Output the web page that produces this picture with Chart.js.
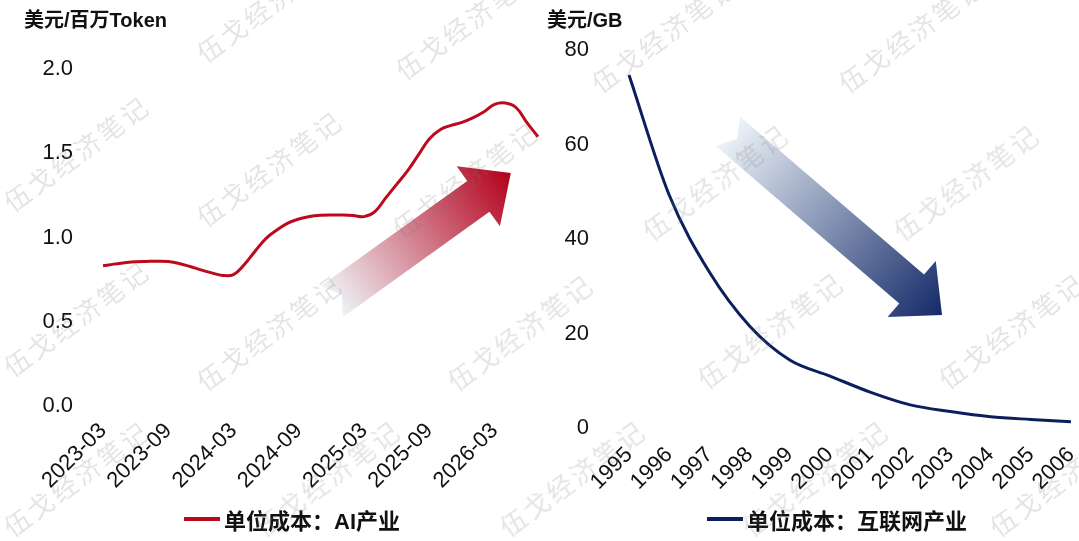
<!DOCTYPE html>
<html>
<head>
<meta charset="utf-8">
<script src="https://cdn.jsdelivr.net/npm/chart.js@4.4.1/dist/chart.umd.min.js"></script>
<style>
html, body { margin: 0; padding: 0; background: #fff; }
body { width: 1079px; height: 541px; position: relative; overflow: hidden;
       font-family: 'Liberation Sans', 'Noto Sans CJK SC', sans-serif; color: #111; }
canvas { position: absolute; top: 0; }
#aiChart { left: 0; }
#netChart { left: 540px; }
.unit { position: absolute; top: 10px; font-size: 20px; line-height: 20px; font-weight: bold; white-space: nowrap; }
.legend { position: absolute; top: 507px; height: 24px; display: flex; align-items: center; white-space: nowrap;
          font-size: 22px; font-weight: bold; font-family: 'Liberation Sans', 'Noto Sans CJK SC', sans-serif; }
.legend span.line { display: inline-block; width: 36px; height: 4px; margin-right: 4px; }
.wm { position: absolute; font-family: 'Noto Sans CJK SC', sans-serif; font-size: 26px; line-height: 26px;
      letter-spacing: 3px; color: rgba(120,120,120,0.2); transform-origin: 0 100%; transform: rotate(-36.5deg);
      white-space: nowrap; pointer-events: none; }
</style>
</head>
<body>
<canvas id="aiChart" width="546" height="541"></canvas>
<canvas id="netChart" width="539" height="541"></canvas>
<div class="unit" style="left:24px">美元/百万Token</div>
<div class="unit" style="left:547px">美元/GB</div>
<div class="legend" id="aiLegend" style="left:184px"></div>
<div class="legend" id="netLegend" style="left:707px"></div>
<div id="marks"></div>
<script>
// AI: monthly unit cost, USD per million tokens
const aiMonths = ['2023-03','2023-04','2023-05','2023-06','2023-07','2023-08','2023-09','2023-10','2023-11','2023-12',
    '2024-01','2024-02','2024-03','2024-04','2024-05','2024-06','2024-07','2024-08','2024-09','2024-10','2024-11','2024-12',
    '2025-01','2025-02','2025-03','2025-04','2025-05','2025-06','2025-07','2025-08','2025-09','2025-10','2025-11','2025-12',
    '2026-01','2026-02','2026-03','2026-04','2026-05','2026-06','2026-07'];
const aiCost = [0.832, 0.842, 0.850, 0.856, 0.858, 0.859, 0.857, 0.846, 0.828, 0.808,
    0.790, 0.775, 0.780, 0.840, 0.920, 0.995, 1.045, 1.085, 1.110, 1.125, 1.132, 1.134,
    1.133, 1.130, 1.124, 1.154, 1.235, 1.315, 1.395, 1.490, 1.585, 1.640, 1.665, 1.683,
    1.710, 1.745, 1.790, 1.798, 1.770, 1.680, 1.598];
const aiTickEvery = 6;

// Internet: yearly unit cost, USD per GB
const netYears = ['1995','1996','1997','1998','1999','2000','2001','2002','2003','2004','2005','2006'];
const netCost = [74.7, 49.3, 33.0, 21.6, 14.4, 11.0, 7.6, 4.9, 3.5, 2.4, 1.8, 1.3];

// trend arrows, in data units: [fromIndex, fromValue, toIndex, toValue]
const aiArrow = [21.05, 0.62, 37.5, 1.383];
const netArrow = [2.46, 62.8, 7.79, 23.9];

const RED = '#BC0A1D';
const NAVY = '#0C1F5C';
const tickFont = { family: "'Liberation Sans', 'Noto Sans CJK SC', sans-serif", size: 22 };

const arrowPlugin = {
    id: 'trendArrow',
    beforeDatasetsDraw(chart, args, opts) {
        if (!opts.from) return;
        const xs = chart.scales.x, ys = chart.scales.y;
        const x0 = xs.getPixelForValue(opts.from[0]), y0 = ys.getPixelForValue(opts.from[1]);
        const x1 = xs.getPixelForValue(opts.to[0]), y1 = ys.getPixelForValue(opts.to[1]);
        const L = Math.hypot(x1 - x0, y1 - y0);
        const w = 19, H = 37, hl = 40, n = 12;
        const ctx = chart.ctx;
        ctx.save();
        ctx.translate(x0, y0);
        ctx.rotate(Math.atan2(y1 - y0, x1 - x0));
        const g = ctx.createLinearGradient(0, 0, L, 0);
        g.addColorStop(0, opts.c0);
        g.addColorStop(1, opts.c1);
        ctx.beginPath();
        ctx.moveTo(0, -w);
        ctx.lineTo(L - hl, -w);
        ctx.lineTo(L - hl, -H);
        ctx.lineTo(L, 0);
        ctx.lineTo(L - hl, H);
        ctx.lineTo(L - hl, w);
        ctx.lineTo(0, w);
        ctx.lineTo(n, 0);
        ctx.closePath();
        ctx.fillStyle = g;
        ctx.fill();
        ctx.restore();
    }
};

// fixed axis sizes, no extra label overflow padding
function fixSize(prop, size) {
    return s => {
        s[prop] = size;
        s.paddingLeft = 0; s.paddingRight = 0; s.paddingTop = 0; s.paddingBottom = 0;
    };
}

function baseOptions(cfg) {
    return {
        responsive: false,
        animation: false,
        layout: { padding: { top: cfg.top, right: 8, left: 0, bottom: 0 } },
        plugins: {
            legend: { display: false },
            tooltip: { enabled: false },
            trendArrow: cfg.arrow
        },
        scales: {
            x: {
                grid: { display: false, drawTicks: false },
                border: { display: false },
                ticks: {
                    autoSkip: false, minRotation: 45, maxRotation: 45, padding: cfg.xPad,
                    color: '#111', font: tickFont, callback: cfg.xCallback
                },
                afterFit: fixSize('height', cfg.xHeight)
            },
            y: {
                min: cfg.min, max: cfg.max,
                grid: { display: false, drawTicks: false },
                border: { display: false },
                ticks: { stepSize: cfg.step, padding: cfg.yPad, color: '#111', font: tickFont, callback: cfg.yCallback },
                afterFit: fixSize('width', cfg.yWidth)
            }
        }
    };
}

const aiChart = new Chart(document.getElementById('aiChart'), {
    type: 'line',
    data: {
        labels: aiMonths,
        datasets: [{
            label: '单位成本：AI产业', data: aiCost, borderColor: RED, backgroundColor: RED,
            borderWidth: 3, pointRadius: 0, tension: 0.4, fill: false
        }]
    },
    options: baseOptions({
        top: 69, xHeight: 135, yWidth: 103, xPad: 12, yPad: 30,
        min: 0, max: 2, step: 0.5,
        yCallback: v => v.toFixed(1),
        xCallback: function (v, i) { return i % aiTickEvery === 0 ? this.getLabelForValue(v) : ''; },
        arrow: { from: aiArrow.slice(0, 2), to: aiArrow.slice(2), c0: '#EFF4F8', c1: '#B3001A' }
    }),
    plugins: [arrowPlugin]
});

const netChart = new Chart(document.getElementById('netChart'), {
    type: 'line',
    data: {
        labels: netYears,
        datasets: [{
            label: '单位成本：互联网产业', data: netCost, borderColor: NAVY, backgroundColor: NAVY,
            borderWidth: 3, pointRadius: 0, cubicInterpolationMode: 'monotone', fill: false
        }]
    },
    options: baseOptions({
        top: 50, xHeight: 113, yWidth: 89, xPad: 14, yPad: 40,
        min: 0, max: 80, step: 20,
        yCallback: v => v,
        xCallback: function (v) { return this.getLabelForValue(v); },
        arrow: { from: netArrow.slice(0, 2), to: netArrow.slice(2), c0: '#EEF4F9', c1: '#142A68' }
    }),
    plugins: [arrowPlugin]
});

// legends built from the chart datasets
function htmlLegend(chart, id) {
    const el = document.getElementById(id);
    chart.data.datasets.forEach(ds => {
        const line = document.createElement('span');
        line.className = 'line';
        line.style.background = ds.borderColor;
        el.appendChild(line);
        el.appendChild(document.createTextNode(ds.label));
    });
}
htmlLegend(aiChart, 'aiLegend');
htmlLegend(netChart, 'netLegend');

// watermark
const markSpots = [[14,215],[207,66],[207,230],[406,83],[403,241],[14,380],[207,394],[458,394],
    [14,540],[265,540],[510,540],[602,96],[849,96],[653,244],[904,244],[708,392],[949,392],[753,540],[1000,540]];
const marks = document.getElementById('marks');
markSpots.forEach(p => {
    const d = document.createElement('div');
    d.className = 'wm';
    d.textContent = '伍戈经济笔记';
    d.style.left = p[0] + 'px';
    d.style.top = (p[1] - 26) + 'px';
    marks.appendChild(d);
});
</script>
</body>
</html>
